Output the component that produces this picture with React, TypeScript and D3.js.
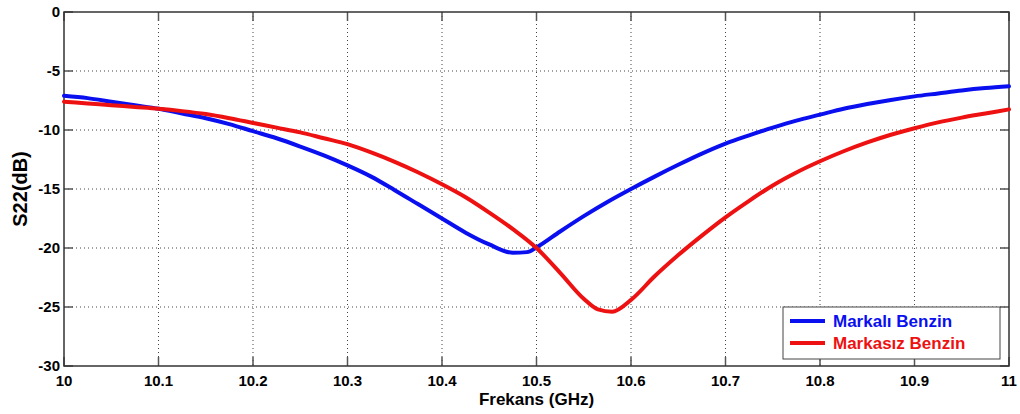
import React from 'react';
import * as d3 from 'd3';

// Markalı Benzin (blue)
const blueFreq = [10.0, 10.025, 10.05, 10.075, 10.1, 10.125, 10.15, 10.175, 10.2, 10.225, 10.25, 10.275, 10.3, 10.325, 10.35, 10.375, 10.4, 10.425, 10.45, 10.475, 10.49, 10.5, 10.525, 10.55, 10.575, 10.6, 10.625, 10.65, 10.675, 10.7, 10.725, 10.75, 10.775, 10.8, 10.825, 10.85, 10.875, 10.9, 10.925, 10.95, 10.975, 11.0];
const blueS22 = [-7.1, -7.3, -7.6, -7.9, -8.2, -8.6, -9.0, -9.5, -10.1, -10.7, -11.4, -12.15, -13.0, -13.95, -15.1, -16.3, -17.5, -18.7, -19.7, -20.4, -20.35, -19.95, -18.6, -17.3, -16.1, -15.0, -13.95, -12.95, -12.0, -11.15, -10.45, -9.8, -9.2, -8.7, -8.2, -7.8, -7.45, -7.15, -6.9, -6.65, -6.45, -6.3];

// Markasız Benzin (red)
const redFreq = [10.0, 10.025, 10.05, 10.075, 10.1, 10.125, 10.15, 10.175, 10.2, 10.225, 10.25, 10.275, 10.3, 10.325, 10.35, 10.375, 10.4, 10.425, 10.45, 10.475, 10.5, 10.525, 10.55, 10.565, 10.58, 10.6, 10.625, 10.65, 10.675, 10.7, 10.725, 10.75, 10.775, 10.8, 10.825, 10.85, 10.875, 10.9, 10.925, 10.95, 10.975, 11.0];
const redS22 = [-7.6, -7.75, -7.9, -8.05, -8.2, -8.4, -8.65, -9.0, -9.4, -9.8, -10.2, -10.7, -11.2, -11.9, -12.7, -13.6, -14.6, -15.7, -17.0, -18.4, -20.0, -22.1, -24.3, -25.2, -25.4, -24.4, -22.4, -20.6, -18.95, -17.4, -16.0, -14.7, -13.6, -12.65, -11.8, -11.05, -10.4, -9.85, -9.35, -8.95, -8.6, -8.25];

const xTicks = [10, 10.1, 10.2, 10.3, 10.4, 10.5, 10.6, 10.7, 10.8, 10.9, 11];
const yTicks = [0, -5, -10, -15, -20, -25, -30];
const xTickLabels = ['10', '10.1', '10.2', '10.3', '10.4', '10.5', '10.6', '10.7', '10.8', '10.9', '11'];

const series = [
  { name: 'Markalı Benzin', color: '#0a0ff0', freq: blueFreq, vals: blueS22 },
  { name: 'Markasız Benzin', color: '#ee1111', freq: redFreq, vals: redS22 },
];

const W = 1020;
const H = 414;
const m = { left: 64, right: 11, top: 12, bottom: 48 };
const font = '"Liberation Sans", Arial, sans-serif';

export default function App() {
  const x = d3.scaleLinear().domain([10, 11]).range([m.left, W - m.right]);
  const y = d3.scaleLinear().domain([-30, 0]).range([H - m.bottom, m.top]);
  const x0 = x.range()[0], x1 = x.range()[1];
  const y0 = y.range()[0], y1 = y.range()[1];

  const line = d3.line<[number, number]>()
    .x((d) => x(d[0]))
    .y((d) => y(d[1]))
    .curve(d3.curveMonotoneX);

  const tickLen = 9;

  return (
    <svg width={W} height={H} style={{ position: 'absolute', left: 0, top: 0, background: '#fff' }} fontFamily={font}>
      <rect x={0} y={0} width={W} height={H} fill="#fff" />
      {/* grid */}
      {xTicks.slice(1, -1).map((t) => (
        <line key={'gx' + t} x1={x(t)} x2={x(t)} y1={y1} y2={y0} stroke="#444" strokeWidth={1} strokeDasharray="1 3" />
      ))}
      {yTicks.slice(1, -1).map((t) => (
        <line key={'gy' + t} x1={x0} x2={x1} y1={y(t)} y2={y(t)} stroke="#444" strokeWidth={1} strokeDasharray="1 3" />
      ))}
      {/* ticks, inside, all four sides */}
      {xTicks.map((t) => (
        <g key={'tx' + t} stroke="#555" strokeWidth={1.5}>
          <line x1={x(t)} x2={x(t)} y1={y0} y2={y0 - tickLen} />
          <line x1={x(t)} x2={x(t)} y1={y1} y2={y1 + tickLen} />
        </g>
      ))}
      {yTicks.map((t) => (
        <g key={'ty' + t} stroke="#555" strokeWidth={1.5}>
          <line x1={x0} x2={x0 + tickLen} y1={y(t)} y2={y(t)} />
          <line x1={x1} x2={x1 - tickLen} y1={y(t)} y2={y(t)} />
        </g>
      ))}
      {/* box */}
      <rect x={x0} y={y1} width={x1 - x0} height={y0 - y1} fill="none" stroke="#333" strokeWidth={1.5} />

      {/* curves */}
      {series.map((s) => (
        <path
          key={s.name}
          d={line(s.freq.map((f, i) => [f, s.vals[i]] as [number, number])) || ''}
          fill="none"
          stroke={s.color}
          strokeWidth={4}
          strokeLinejoin="round"
          strokeLinecap="round"
        />
      ))}

      {/* tick labels */}
      {xTicks.map((t, i) => (
        <text key={'lx' + t} x={x(t)} y={y0 + 20} textAnchor="middle" fontSize={15} fontWeight="bold" fill="#000">
          {xTickLabels[i]}
        </text>
      ))}
      {yTicks.map((t) => (
        <text key={'ly' + t} x={x0 - 4} y={y(t) + 5} textAnchor="end" fontSize={15} fontWeight="bold" fill="#000">
          {t}
        </text>
      ))}

      {/* axis titles */}
      <text x={(x0 + x1) / 2} y={H - 9} textAnchor="middle" fontSize={17} fontWeight="bold" fill="#000">
        Frekans (GHz)
      </text>
      <text
        transform={`translate(27,${(y0 + y1) / 2}) rotate(-90)`}
        textAnchor="middle"
        fontSize={20}
        fontWeight="bold"
        fill="#000"
      >
        S22(dB)
      </text>

      {/* legend */}
      <g>
        <rect x={783} y={307} width={217} height={52} fill="#fff" stroke="#444" strokeWidth={1} />
        {series.map((s, i) => (
          <g key={'lg' + s.name}>
            <line x1={790} x2={825} y1={321 + i * 22} y2={321 + i * 22} stroke={s.color} strokeWidth={4} />
            <text x={833} y={327 + i * 22} fontSize={17} fontWeight="bold" fill={s.color}>
              {s.name}
            </text>
          </g>
        ))}
      </g>
    </svg>
  );
}
